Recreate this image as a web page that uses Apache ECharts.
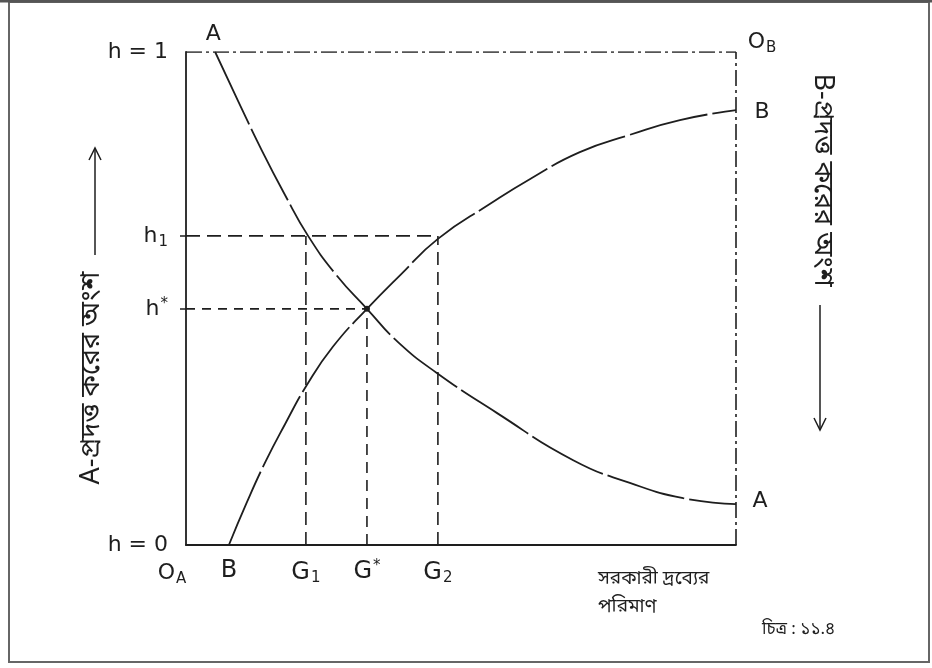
<!DOCTYPE html>
<html>
<head>
<meta charset="utf-8">
<script src="https://cdn.jsdelivr.net/npm/echarts@6.0.0/dist/echarts.min.js"></script>
<style>
html,body{margin:0;padding:0;background:#fff;}
#chart{width:932px;height:668px;}
</style>
</head>
<body>
<div id="chart"></div>
<script>
// Curve A (share of tax paid by A, decreasing)
const curveA_x = [5.3, 9.5, 13.8, 18.0, 22.2, 27.3, 32.9, 38.5, 45.6, 56.5, 70.4, 80.7, 90.4, 100];
const curveA_h = [1.0, 0.9, 0.80, 0.71, 0.627, 0.548, 0.479, 0.412, 0.349, 0.268, 0.172, 0.126, 0.095, 0.083];
// Curve B (increasing)
const curveB_x = [7.8, 11.0, 14.5, 18.0, 22.0, 26.7, 32.9, 39.0, 45.8, 55.3, 62.5, 71.6, 80.7, 89.8, 100];
const curveB_h = [0, 0.085, 0.17, 0.245, 0.325, 0.402, 0.479, 0.548, 0.621, 0.692, 0.742, 0.797, 0.832, 0.862, 0.882];
// Key positions
const xTickValues = [7.8, 21.8, 32.9, 45.8];
const xTickNames = ['B', 'G{s|1}', 'G{p|*}', 'G{s|2}'];
const yTickValues = [0, 0.479, 0.627, 1];
const yTickNames = ['h = 0', 'h{p|*}', 'h{s|1}', 'h = 1'];
const G1 = 21.8, Gstar = 32.9, G2 = 45.8, h1 = 0.627, hstar = 0.479;
const leftLabel = 'A-প্রদত্ত করের অংশ';
const rightLabel = 'B-প্রদত্ত করের অংশ';
const xName = 'সরকারী দ্রব্যের\nপরিমাণ';
const caption = 'চিত্র : ১১.৪';

const ink = '#1e1e1e';
const font = "'DejaVu Sans', 'Noto Sans', sans-serif";
const bnFont = "'Noto Sans Bengali', 'Noto Serif Bengali', 'Lohit Bengali', 'Noto Sans', sans-serif";

const chart = echarts.init(document.getElementById('chart'), null, {renderer: 'canvas'});
const zip = (xs, ys) => xs.map((x, i) => [x, ys[i]]);
const rich = {
  s: {fontSize: 15, verticalAlign: 'bottom', padding: [12, 0, 0, 1], fontFamily: font, color: ink},
  p: {fontSize: 15, verticalAlign: 'top', padding: [0, 0, 10, 1], fontFamily: font, color: ink}
};
function guide(data, type) {
  return {type: 'line', data: data, symbol: 'none', silent: true,
    lineStyle: {color: ink, width: 1.6, type: type}, z: 2};
}
function tag(pt, text, offset) {
  return {type: 'scatter', data: [pt], symbolSize: 0, silent: true,
    itemStyle: {opacity: 1, color: ink},
    label: {show: true, formatter: text, position: 'inside', offset: offset,
      fontSize: 22, fontFamily: font, color: ink, opacity: 1, rich: rich}};
}

chart.setOption({
  animation: false,
  backgroundColor: '#fff',
  grid: {left: 186, top: 52, width: 550, height: 493},
  xAxis: {
    type: 'value', min: 0, max: 100,
    splitLine: {show: false},
    axisLine: {show: true, lineStyle: {color: ink, width: 1.8}},
    axisTick: {show: false},
    axisLabel: {
      customValues: xTickValues, margin: 14, fontSize: 24, fontFamily: font, color: ink,
      formatter: v => xTickNames[xTickValues.indexOf(v)] || '', rich: rich
    }
  },
  yAxis: {
    type: 'value', min: 0, max: 1,
    splitLine: {show: false},
    axisLine: {show: true, lineStyle: {color: ink, width: 1.8}},
    axisTick: {show: true, customValues: [hstar, h1], length: 6, lineStyle: {color: ink, width: 1.5}},
    axisLabel: {
      customValues: yTickValues, margin: 18, fontSize: 22, fontFamily: font, color: ink,
      formatter: v => yTickNames[yTickValues.indexOf(v)] || '', rich: rich
    }
  },
  series: [
    guide([[0, 1], [100, 1]], [16, 4, 3, 4]),
    guide([[100, 0], [100, 1]], [16, 4, 3, 4]),
    guide([[0, h1], [G2, h1]], [14, 7]),
    guide([[0, hstar], [Gstar, hstar]], [9, 7]),
    guide([[G1, 0], [G1, h1]], [13, 7]),
    guide([[Gstar, 0], [Gstar, hstar]], [11, 7]),
    guide([[G2, 0], [G2, h1]], [13, 7]),
    {type: 'line', data: zip(curveA_x, curveA_h), smooth: 0.5, symbol: 'none', silent: true,
      lineStyle: {color: ink, width: 1.8, type: [80, 5]}, z: 3},
    {type: 'line', data: zip(curveB_x, curveB_h), smooth: 0.5, symbol: 'none', silent: true,
      lineStyle: {color: ink, width: 1.8, type: [80, 5]}, z: 3},
    {type: 'scatter', data: [[Gstar, hstar]], symbolSize: 6, itemStyle: {color: ink, opacity: 1}, silent: true, z: 4},
    tag([0, 0], 'O{s|A}', [-14, 28]),
    tag([curveA_x[0], 1], 'A', [-2, -18]),
    tag([100, 1], 'O{s|B}', [26, -10]),
    tag([100, curveB_h[curveB_h.length - 1]], 'B', [26, 2]),
    tag([100, curveA_h[curveA_h.length - 1]], 'A', [24, -3])
  ],
  graphic: [
    {type: 'rect', shape: {x: 9, y: 2, width: 920, height: 660}, style: {fill: 'none', stroke: '#666', lineWidth: 2}, silent: true},
    {type: 'line', shape: {x1: 0, y1: 1, x2: 932, y2: 1}, style: {stroke: '#555', lineWidth: 3}, silent: true},
    // left axis title (reads bottom to top)
    {type: 'text', x: 94, y: 378, rotation: Math.PI / 2,
      style: {text: leftLabel, font: '27px ' + bnFont, fill: ink, align: 'center', verticalAlign: 'middle'}},
    {type: 'polyline', shape: {points: [[95, 255], [95, 148]]}, style: {stroke: ink, lineWidth: 1.5, fill: 'none'}},
    {type: 'polyline', shape: {points: [[89, 160], [95, 148], [101, 160]]}, style: {stroke: ink, lineWidth: 1.5, fill: 'none'}},
    // right axis title (reads top to bottom)
    {type: 'text', x: 820, y: 180, rotation: -Math.PI / 2,
      style: {text: rightLabel, font: '27px ' + bnFont, fill: ink, align: 'center', verticalAlign: 'middle'}},
    {type: 'polyline', shape: {points: [[820, 305], [820, 430]]}, style: {stroke: ink, lineWidth: 1.5, fill: 'none'}},
    {type: 'polyline', shape: {points: [[814, 418], [820, 430], [826, 418]]}, style: {stroke: ink, lineWidth: 1.5, fill: 'none'}},
    // x axis title
    {type: 'text', x: 598, y: 566,
      style: {text: xName, font: '19px ' + bnFont, fill: ink, align: 'left', verticalAlign: 'top', lineHeight: 28}},
    {type: 'text', x: 762, y: 622,
      style: {text: caption, font: '17px ' + bnFont, fill: ink, align: 'left', verticalAlign: 'top'}}
  ]
});
</script>
</body>
</html>
